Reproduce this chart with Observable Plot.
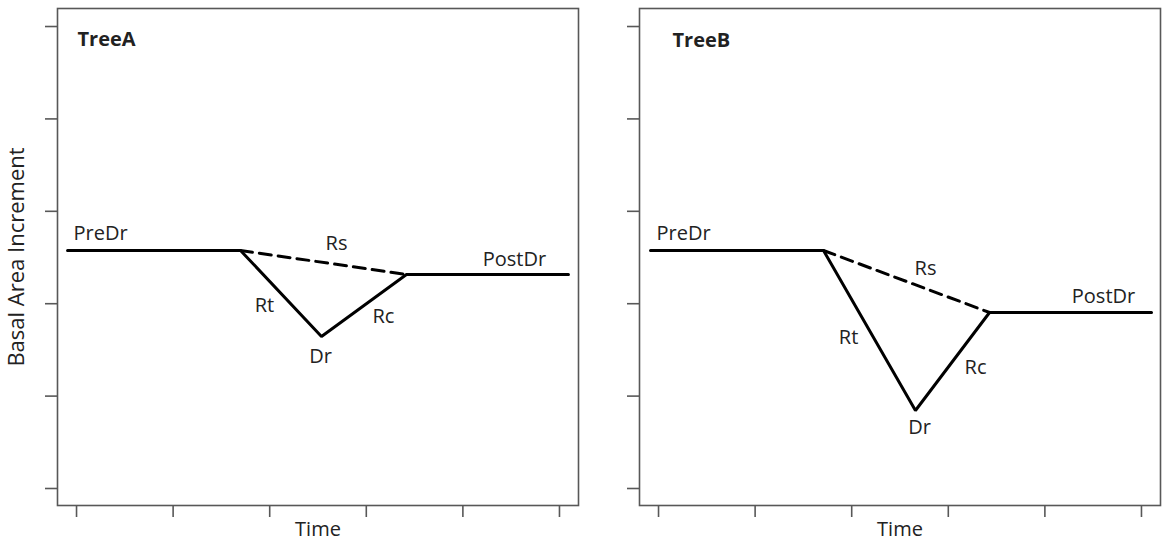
<!DOCTYPE html>
<html>
<head>
<meta charset="utf-8">
<script src="https://cdn.jsdelivr.net/npm/d3@7"></script>
<script src="https://cdn.jsdelivr.net/npm/@observablehq/plot@0.6"></script>
<style>
  html, body { margin: 0; padding: 0; background: #fff; }
  #row { display: flex; flex-direction: row; width: 1162px; height: 546px; }
  svg { overflow: visible; }
</style>
</head>
<body>
<div id="row"></div>
<script>
// Panel names
const panels = ["TreeA", "TreeB"];

// Solid path (PreDr start, PreDr end, Dr, PostDr start, PostDr end)
const timeA = [-0.093, 1.698, 2.536, 3.416, 5.093];
const baiA  = [2.576, 2.576, 1.645, 2.316, 2.316];
const timeB = [-0.083, 1.708, 2.660, 3.427, 5.104];
const baiB  = [2.576, 2.576, 0.844, 1.905, 1.905];

// Dashed Rs segment indices (PreDr end -> PostDr start)
const dashedIdx = [1, 3];

// Annotation labels
const labelNames = ["PreDr", "Rs", "Rt", "Rc", "Dr", "PostDr"];
const labelTimeA = [-0.031, 2.692, 1.946, 3.178, 2.526, 4.534];
const labelBaiA  = [2.76, 2.652, 1.981, 1.861, 1.429, 2.478];
const labelTimeB = [-0.021, 2.764, 1.967, 3.282, 2.702, 4.607];
const labelBaiB  = [2.76, 2.381, 1.634, 1.310, 0.660, 2.078];
const labelAnchors = ["start", "middle", "middle", "middle", "middle", "middle"];

// Panel title positions
const titleTime = [0.010, 0.145];
const titleBai  = [4.859, 4.848];

// Axis ticks (unlabeled)
const xTicks = [0, 1, 2, 3, 4, 5];
const yTicks = [0, 1, 2, 3, 4, 5];

const FONT = "'Open Sans', 'Noto Sans', sans-serif";
const GRAY = "#585858";
const FS = 20;

function panel(i, time, bai, lt, lb, opts) {
  const pts = time.map((t, k) => ({t, b: bai[k]}));
  const dashed = dashedIdx.map(k => pts[k]);
  const labels = labelNames.map((n, k) => ({n, t: lt[k], b: lb[k], a: labelAnchors[k]}));
  const marks = [
    Plot.frame({stroke: GRAY, strokeWidth: 1.6}),
    Plot.axisX({ticks: xTicks, tickSize: 12, tickFormat: () => "", label: null, stroke: GRAY, strokeWidth: 1.6}),
    Plot.axisY({ticks: yTicks, tickSize: 12, tickFormat: () => "", label: null, stroke: GRAY, strokeWidth: 1.6}),
    Plot.line(dashed, {x: "t", y: "b", stroke: "#000", strokeWidth: 3, strokeDasharray: "12,7"}),
    Plot.line(pts, {x: "t", y: "b", stroke: "#000", strokeWidth: 3, strokeLinejoin: "miter"}),
    Plot.text(labels.filter(d => d.a === "start"), {x: "t", y: "b", text: "n", textAnchor: "start", fontSize: FS, fill: "#222"}),
    Plot.text(labels.filter(d => d.a === "middle"), {x: "t", y: "b", text: "n", textAnchor: "middle", fontSize: FS, fill: "#222"}),
    Plot.text([{n: panels[i], t: titleTime[i], b: titleBai[i]}], {x: "t", y: "b", text: "n", textAnchor: "start", fontSize: FS, fontWeight: "bold", fill: "#222"}),
    Plot.text(["Time"], {frameAnchor: "bottom", dy: 30, textAnchor: "middle", fontSize: FS, fill: "#222"})
  ];
  if (i === 0) {
    marks.push(Plot.text(["Basal Area Increment"], {frameAnchor: "left", dx: -41, rotate: -90, textAnchor: "middle", fontSize: 22, fill: "#222"}));
  }
  return Plot.plot({
    width: 581,
    height: 546,
    marginLeft: opts.marginLeft,
    marginRight: opts.marginRight,
    marginTop: 8,
    marginBottom: 41,
    style: {fontFamily: FONT, background: "#fff", overflow: "visible"},
    x: {domain: [-0.197, 5.197]},
    y: {domain: [-0.184, 5.195]},
    marks
  });
}

const row = document.getElementById("row");
row.appendChild(panel(0, timeA, baiA, labelTimeA, labelBaiA, {marginLeft: 57, marginRight: 3}));
row.appendChild(panel(1, timeB, baiB, labelTimeB, labelBaiB, {marginLeft: 58, marginRight: 2}));
</script>
</body>
</html>
